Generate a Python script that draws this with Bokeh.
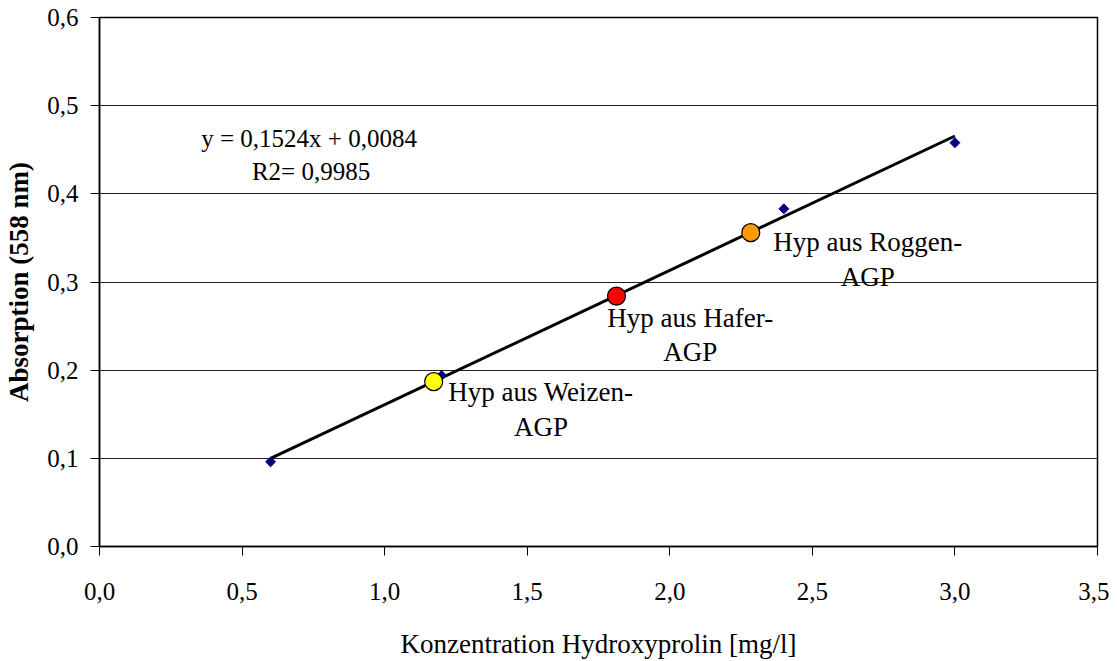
from bokeh.plotting import figure
from bokeh.models import FixedTicker, Label, ColumnDataSource
from bokeh.embed import file_html
from bokeh.resources import INLINE
import numpy as np

# ---- data ----
std_x = [0.6, 1.2, 1.8, 2.4, 3.0]
std_y = [0.096, 0.194, 0.283, 0.383, 0.458]

sample_names = ["Weizen", "Hafer", "Roggen"]
sample_x = [1.172, 1.813, 2.284]
sample_y = [0.187, 0.284, 0.356]
sample_colors = ["#FFFF00", "#FF0000", "#FF9900"]

trend_slope = 0.1524
trend_intercept = 0.0084
trend_x = [0.6, 3.0]

x_ticks = [0.0, 0.5, 1.0, 1.5, 2.0, 2.5, 3.0, 3.5]
x_tick_labels = ["0,0", "0,5", "1,0", "1,5", "2,0", "2,5", "3,0", "3,5"]
y_ticks = [0.0, 0.1, 0.2, 0.3, 0.4, 0.5, 0.6]
y_tick_labels = ["0,0", "0,1", "0,2", "0,3", "0,4", "0,5", "0,6"]

FONT = "Liberation Serif"
FS = "25px"
FS_BIG = "27px"

p = figure(width=1109, height=661, x_range=(0, 3.5), y_range=(0, 0.6),
           output_backend="svg", toolbar_location=None,
           min_border_left=99, min_border_right=12, min_border_top=17, min_border_bottom=114)

p.background_fill_color = "white"
p.border_fill_color = "white"
p.outline_line_color = "black"
p.outline_line_width = 1.5

p.xgrid.grid_line_color = None
p.ygrid.grid_line_color = "#222222"
p.ygrid.grid_line_width = 1

for ax, ticks, labels in ((p.xaxis[0], x_ticks, x_tick_labels), (p.yaxis[0], y_ticks, y_tick_labels)):
    ax.ticker = FixedTicker(ticks=ticks)
    ax.major_label_overrides = {t: l for t, l in zip(ticks, labels)}
    ax.minor_tick_line_color = None
    ax.major_tick_in = 0
    ax.major_tick_out = 9
    ax.major_tick_line_color = "black"
    ax.axis_line_color = "black"
    ax.axis_line_width = 1.5
    ax.major_label_text_font = FONT
    ax.major_label_text_font_size = FS
    ax.major_label_text_color = "black"
    ax.axis_label_text_font = FONT
    ax.axis_label_text_font_size = FS_BIG
    ax.axis_label_text_color = "black"
    ax.axis_label_text_font_style = "normal"

p.xaxis.axis_label = "Konzentration Hydroxyprolin [mg/l]"
p.xaxis.major_label_standoff = 27
p.xaxis.axis_label_standoff = 26
p.yaxis.axis_label = "Absorption (558 nm)"
p.yaxis.axis_label_text_font_style = "bold"
p.yaxis.axis_label_text_font_size = "27px"
p.yaxis.major_label_standoff = 12
p.yaxis.axis_label_standoff = 10

# trend line
ty = [trend_slope * x + trend_intercept for x in trend_x]
p.line(trend_x, ty, line_color="black", line_width=3)

# standards
p.scatter(std_x, std_y, marker="square", size=7, angle=np.pi / 4,
          fill_color="#000080", line_color="#000080")

# samples
src = ColumnDataSource(dict(x=sample_x, y=sample_y, c=sample_colors))
p.scatter("x", "y", source=src, marker="circle", size=18, fill_color="c",
          line_color="black", line_width=1.2)

# texts
def lab(x, y, t, fs):
    p.add_layout(Label(x=x, y=y, text=t, text_font=FONT, text_font_size=fs,
                       text_align="center", text_baseline="middle", text_color="black"))

lab(0.735, 0.463, "y = 0,1524x + 0,0084", FS)
lab(0.742, 0.4255, "R2= 0,9985", FS)
lab(1.548, 0.1755, "Hyp aus Weizen-", FS_BIG)
lab(1.548, 0.1356, "AGP", FS_BIG)
lab(2.072, 0.259, "Hyp aus Hafer-", FS_BIG)
lab(2.072, 0.2205, "AGP", FS_BIG)
lab(2.694, 0.3454, "Hyp aus Roggen-", FS_BIG)
lab(2.694, 0.3058, "AGP", FS_BIG)

open("out.html", "w").write(file_html(p, INLINE))
